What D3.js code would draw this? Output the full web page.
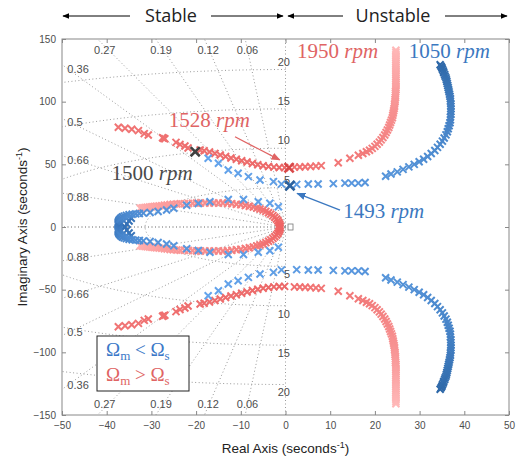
<!DOCTYPE html>
<html><head><meta charset="utf-8">
<script src="https://cdn.jsdelivr.net/npm/d3@7"></script>
<style>
body{margin:0;background:#fff;}
svg{display:block;}
</style></head>
<body><svg id="chart" width="531" height="459"></svg>
<script>
// ---------- DATA ----------
const xTicks = [-50,-40,-30,-20,-10,0,10,20,30,40,50];
const yTicks = [-150,-100,-50,0,50,100,150];
const dampTop = [0.27,0.19,0.12,0.06];
const dampLeft = [0.36,0.5,0.66,0.88];
const wnHz = [5,10,15,20];

// upper-half poles (lower half is the conjugate)
// Omega_m < Omega_s : 1050 rpm -> 1500 rpm
const blueBranch = [[34.6,129.5],[34.8,128.3],[35.0,127],[35.1,125.8],[35.3,124.5],[35.4,123.2],[35.6,121.8],[35.7,120.4],[35.9,119],[36.0,117.5],[36.1,116],[36.2,114.4],[36.3,112.8],[36.4,111.2],[36.5,109.5],[36.6,107.8],[36.7,106],[36.8,104.2],[36.9,102.3],[36.9,100.4],[37.0,98.4],[37.0,96.4],[37.0,94.3],[37.0,92.2],[37.0,90],[36.9,87.8],[36.9,85.5],[36.8,83.2],[36.6,80.8],[36.4,78.4],[36.2,76],[35.9,73.5],[35.5,71],[35.1,68.5],[34.6,66],[34.0,63.5],[33.4,61],[32.6,58.6],[31.8,56.3],[30.9,54.1],[29.9,52],[28.8,50],[27.6,48],[26.3,46],[25.0,44],[23.6,42.3],[22.4,40.5],[17.8,35.5],[16.3,35],[14.8,35],[13.3,35],[10.7,34.6],[7.3,34.3],[5.1,34.3],[2.5,34],[-0.9,34.2],[-2.7,36.2],[-5.7,37.5],[-8.3,40.2],[-10.6,42.9],[-12.8,45.5],[-15.0,50.8],[-17.3,54.8]];
const blueLoop = [[-36.0,0.5],[-35.5,2.5],[-35.0,4.8],[-34.5,7],[-37.2,0],[-37.3,0.8],[-37.4,1.6],[-37.4,2.4],[-37.4,3.2],[-37.4,4],[-37.3,4.8],[-37.2,5.6],[-37.0,6.4],[-36.8,7.2],[-36.5,8],[-36.1,8.7],[-35.6,9.3],[-35.0,9.8],[-34.3,10.2],[-33.5,10.5],[-32.7,10.8],[-31.8,11.1],[-30.3,11.6],[-28.5,12.4],[-26.6,13.6],[-25.0,15],[-22.1,17.3],[-19.5,18.8],[-16.9,20.2],[-12.8,22],[-9.4,22],[-6.1,20.2],[-3.5,18.9],[-1.6,16.2]];
// Omega_m > Omega_s : 1950 rpm -> 1528 rpm
const redBranch = [[24.7,141],[24.7,139.5],[24.7,138],[24.7,136.5],[24.7,135],[24.7,133.5],[24.7,132],[24.7,130.5],[24.7,129],[24.7,127.5],[24.7,126],[24.7,124.5],[24.7,123],[24.7,121.5],[24.7,120],[24.7,118.5],[24.7,117],[24.7,115.5],[24.7,114],[24.7,112.5],[24.7,111],[24.7,109.5],[24.6,108],[24.6,106.5],[24.6,105],[24.6,103.3],[24.5,101.6],[24.5,99.9],[24.4,98.2],[24.4,96.4],[24.3,94.6],[24.2,92.8],[24.1,91],[24.0,89.1],[23.9,87.2],[23.7,85.3],[23.5,83.4],[23.3,81.4],[23.1,79.4],[22.8,77.4],[22.5,75.4],[22.2,73.4],[21.8,71.4],[21.4,69.5],[21.0,67.7],[20.5,66],[20.0,64.3],[19.4,62.7],[18.8,61.3],[18.1,60],[17.3,58.7],[16.3,57.3],[14.4,54.8],[11.8,51.3],[8.0,49],[6.8,48.6],[5.6,48.3],[4.4,48.1],[3.2,47.9],[2.0,47.8]];
const redLeft = [[-0.2,47.4],[-1.4,47.5],[-2.6,47.8],[-3.8,48.3],[-5.0,48.9],[-6.2,49.7],[-7.4,50.7],[-8.6,51.8],[-9.8,52.9],[-11.0,54.0],[-12.2,55.1],[-13.4,56.2],[-14.6,57.4],[-15.8,58.6],[-17.0,59.8],[-18.2,60.8],[-19.1,61.5],[-21.8,63],[-22.5,64.6],[-23.6,65.8],[-24.5,67.5],[-27.0,70.4],[-27.3,70.8],[-27.5,71.2],[-30.7,73.4],[-31.6,74.5],[-32.9,76.9],[-34.4,78],[-35.9,78.8],[-37.4,79.6]];
const redLoop = [[-32.5,14.9],[-32.1,15.1],[-31.7,15.3],[-31.3,15.5],[-30.9,15.7],[-30.4,15.9],[-29.9,16.1],[-29.4,16.3],[-28.9,16.5],[-28.3,16.7],[-27.7,17],[-27.1,17.3],[-26.5,17.6],[-25.8,17.9],[-25.1,18.1],[-24.3,18.3],[-23.5,18.5],[-22.6,18.6],[-21.7,18.8],[-20.8,18.9],[-19.9,19.1],[-19.0,19.2],[-18.0,19.2],[-17.0,19.2],[-16.0,19.2],[-15.0,19.2],[-14.0,19.1],[-13.0,18.9],[-12.0,18.6],[-11.0,18.2],[-10.0,17.8],[-9.0,17.2],[-8.1,16.6],[-7.2,16],[-6.4,15.2],[-5.7,14.4],[-5.0,13.5],[-4.4,12.5],[-3.8,11.4],[-3.3,10.3],[-2.8,9.1],[-2.4,7.8],[-2.0,6.4],[-1.7,5],[-1.5,3.6],[-1.3,2.2],[-1.2,0.8]];
// highlighted speeds
const highlights = [
  {rpm:1493, re:1.0, im:33.0, color:"#2b62a0"},
  {rpm:1528, re:0.8, im:47.3, color:"#d84848"},
  {rpm:1500, re:-20.2, im:60.1, color:"#404040"}
];
// annotation labels (data coords of text start) and arrows
const labels = [
  {num:"1950", re:2.6, im:135, color:"#e06464"},
  {num:"1050", re:27.6, im:135, color:"#3b78c0"},
  {num:"1528", re:-26.1, im:80, color:"#e06464"},
  {num:"1500", re:-38.9, im:37.5, color:"#4a4a4a"},
  {num:"1493", re:12.9, im:7.2, color:"#3b78c0"}
];
const arrows = [
  {from:[-11.3,72], to:[-1.3,53.5], color:"#e06464"},
  {from:[12.2,13.4], to:[2.6,26.8], color:"#3b78c0"}
];

// ---------- DRAW ----------
const svg = d3.select("#chart");
const L=62, R=509, T=39, B=415;
const x = d3.scaleLinear().domain([-50,50]).range([L,R]);
const y = d3.scaleLinear().domain([-150,150]).range([B,T]);
const tickFont = "'Liberation Sans', Arial, sans-serif";
const gridCol = "#9a9a9a";

const defs = svg.append("defs");
defs.append("clipPath").attr("id","clip")
  .append("rect").attr("x",L).attr("y",T).attr("width",R-L).attr("height",B-T);
[["ahBlack","#000"],["ahRed","#e06464"],["ahBlue","#3b78c0"]].forEach(([id,c])=>{
  defs.append("marker").attr("id",id).attr("viewBox","0 0 10 10").attr("refX",9).attr("refY",5)
   .attr("markerWidth",7).attr("markerHeight",7).attr("orient","auto-start-reverse")
   .append("path").attr("d","M0,1L10,5L0,9Z").attr("fill",c);
});

// header
const hy = 16;
const hdr = svg.append("g");
[[130,63],[211,283],[343,288],[445,507]].forEach(([a,b])=>{
  hdr.append("line").attr("x1",a).attr("y1",hy).attr("x2",b).attr("y2",hy)
    .attr("stroke","#000").attr("stroke-width",1).attr("marker-end","url(#ahBlack)");
});
hdr.append("text").attr("x",171).attr("y",hy+6).attr("text-anchor","middle")
  .style("font-family","'Open Sans', sans-serif").style("font-size","18px").attr("fill","#222").text("Stable");
hdr.append("text").attr("x",393).attr("y",hy+6).attr("text-anchor","middle")
  .style("font-family","'Open Sans', sans-serif").style("font-size","18px").attr("fill","#222").text("Unstable");

// grid
const grid = svg.append("g").attr("clip-path","url(#clip)")
  .attr("fill","none").attr("stroke",gridCol).attr("stroke-width",1).attr("stroke-dasharray","1,2.5");
const allDamp = dampTop.concat(dampLeft).concat([1]);
allDamp.forEach(z=>{
  const s = Math.sqrt(1-z*z);
  [1,-1].forEach(sg=>{
    grid.append("line").attr("x1",x(0)).attr("y1",y(0))
      .attr("x2",x(-z*400)).attr("y2",y(sg*s*400));
  });
});
grid.append("line").attr("x1",x(0)).attr("y1",y(-150)).attr("x2",x(0)).attr("y2",y(150));
const arc = d3.line().x(d=>x(d[0])).y(d=>y(d[1]));
wnHz.forEach(f=>{
  const r = 2*Math.PI*f;
  const pts = d3.range(0,181).map(i=>{const a=Math.PI/2+i*Math.PI/180; return [r*Math.cos(a), r*Math.sin(a)];});
  grid.append("path").attr("d",arc(pts));
});
// grid labels
const gl = svg.append("g").style("font-family",tickFont).style("font-size","11px").attr("fill","#4d4d4d");
dampTop.forEach(z=>{
  const im = 145, re = -im*z/Math.sqrt(1-z*z);
  [1,-1].forEach(sg=>{
    gl.append("text").attr("x",x(re)+1).attr("y",y(sg*141)+4).attr("text-anchor","middle").text(z);
  });
});
dampLeft.forEach(z=>{
  const im = 50*Math.sqrt(1-z*z)/z;
  [1,-1].forEach(sg=>{
    gl.append("text").attr("x",x(-48.8)).attr("y",y(sg*im)+sg*4+4).attr("text-anchor","start").text(z);
  });
});
wnHz.forEach(f=>{
  const r = 2*Math.PI*f;
  [1,-1].forEach(sg=>{
    gl.append("text").attr("x",x(0)+4.5).attr("y",y(sg*r)-sg*8+4).attr("text-anchor","end").text(f);
  });
});
svg.append("rect").attr("x",x(0)+2.5).attr("y",y(0)-3).attr("width",5).attr("height",6)
  .attr("fill","none").attr("stroke","#777").attr("stroke-width",0.8);

// axes
const axG = svg.append("g").style("font-family",tickFont).style("font-size","11px");
const bx = axG.append("g").attr("transform",`translate(0,${B})`)
  .call(d3.axisBottom(x).tickValues(xTicks).tickSizeInner(-4).tickSizeOuter(0).tickPadding(7));
axG.append("g").attr("transform",`translate(${L},0)`)
  .call(d3.axisLeft(y).tickValues(yTicks).tickSizeInner(-4).tickSizeOuter(0).tickPadding(6));
axG.append("g").attr("transform",`translate(0,${T})`)
  .call(d3.axisTop(x).tickValues(xTicks).tickSizeInner(-4).tickSizeOuter(0).tickFormat(""));
axG.append("g").attr("transform",`translate(${R},0)`)
  .call(d3.axisRight(y).tickValues(yTicks).tickSizeInner(-4).tickSizeOuter(0).tickFormat(""));
axG.selectAll(".domain").remove();
axG.selectAll(".tick line").attr("stroke","#888");
axG.selectAll(".tick text").attr("fill","#4d4d4d");
bx.selectAll(".tick text").attr("dy","0.72em");
svg.append("rect").attr("x",L).attr("y",T).attr("width",R-L).attr("height",B-T)
  .attr("fill","none").attr("stroke","#888").attr("stroke-width",1);

// axis titles
const at = svg.append("g").style("font-family",tickFont).style("font-size","13.5px").attr("fill","#222");
const xt = at.append("text").attr("x",(L+R)/2).attr("y",453).attr("text-anchor","middle");
xt.append("tspan").text("Real Axis (seconds");
xt.append("tspan").attr("dy",-5).style("font-size","9px").text("-1");
xt.append("tspan").attr("dy",5).text(")");
const yt = at.append("text").attr("transform",`translate(27,${(T+B)/2}) rotate(-90)`).attr("text-anchor","middle");
yt.append("tspan").text("Imaginary Axis (seconds");
yt.append("tspan").attr("dy",-5).style("font-size","9px").text("-1");
yt.append("tspan").attr("dy",5).text(")");

// markers
const plot = svg.append("g").attr("clip-path","url(#clip)");
const xPath = h => `M${-h},${-h}L${h},${h}M${-h},${h}L${h},${-h}`;
function drawSeries(data, c0, c1){
  const n = data.length;
  const ci = d3.interpolateRgb(c0,c1);
  [1,-1].forEach(sg=>{
    plot.append("g").selectAll("path").data(data).join("path")
      .attr("transform",d=>`translate(${x(d[0])},${y(sg*d[1])})`)
      .attr("d",xPath(3.5)).attr("fill","none")
      .attr("stroke",(d,i)=>ci(n>1?i/(n-1):0)).attr("stroke-width",2);
  });
}
drawSeries(redLoop,"#ffb0b0","#ef6464");
drawSeries(blueLoop,"#3470b5","#62a2ea");
drawSeries(redBranch,"#ffb8b8","#f07070");
drawSeries(redLeft,"#ec6868","#f07474");
drawSeries(blueBranch,"#2e68a8","#64a4ec");
plot.append("g").selectAll("path").data(highlights).join("path")
  .attr("transform",d=>`translate(${x(d.re)},${y(d.im)})`)
  .attr("d",xPath(4.6)).attr("fill","none").attr("stroke",d=>d.color).attr("stroke-width",2.6);

// annotations
const an = svg.append("g").style("font-family","'Liberation Serif', 'Times New Roman', serif").style("font-size","21px");
labels.forEach(l=>{
  const t = an.append("text").attr("x",x(l.re)).attr("y",y(l.im)).attr("fill",l.color);
  t.append("tspan").text(l.num+" ");
  t.append("tspan").style("font-style","italic").text("rpm");
});
arrows.forEach(a=>{
  svg.append("line").attr("x1",x(a.from[0])).attr("y1",y(a.from[1]))
    .attr("x2",x(a.to[0])).attr("y2",y(a.to[1])).attr("stroke",a.color).attr("stroke-width",1.3)
    .attr("marker-end",a.color==="#e06464"?"url(#ahRed)":"url(#ahBlue)");
});

// legend
const lg = svg.append("g");
lg.append("rect").attr("x",97).attr("y",336).attr("width",92).attr("height",55)
  .attr("fill","#fff").attr("stroke","#222").attr("stroke-width",1);
const legItems = [["<","#3b78c8"],[">","#e06464"]];
legItems.forEach(([op,c],i)=>{
  const t = lg.append("text").attr("x",106).attr("y",356+i*25).attr("fill",c)
    .style("font-family","'Liberation Serif', 'Times New Roman', serif").style("font-size","19px");
  t.append("tspan").text("Ω");
  t.append("tspan").attr("dy",4).style("font-size","13px").text("m");
  t.append("tspan").attr("dy",-4).text(" "+op+" Ω");
  t.append("tspan").attr("dy",4).style("font-size","13px").text("s");
});
</script></body></html>
